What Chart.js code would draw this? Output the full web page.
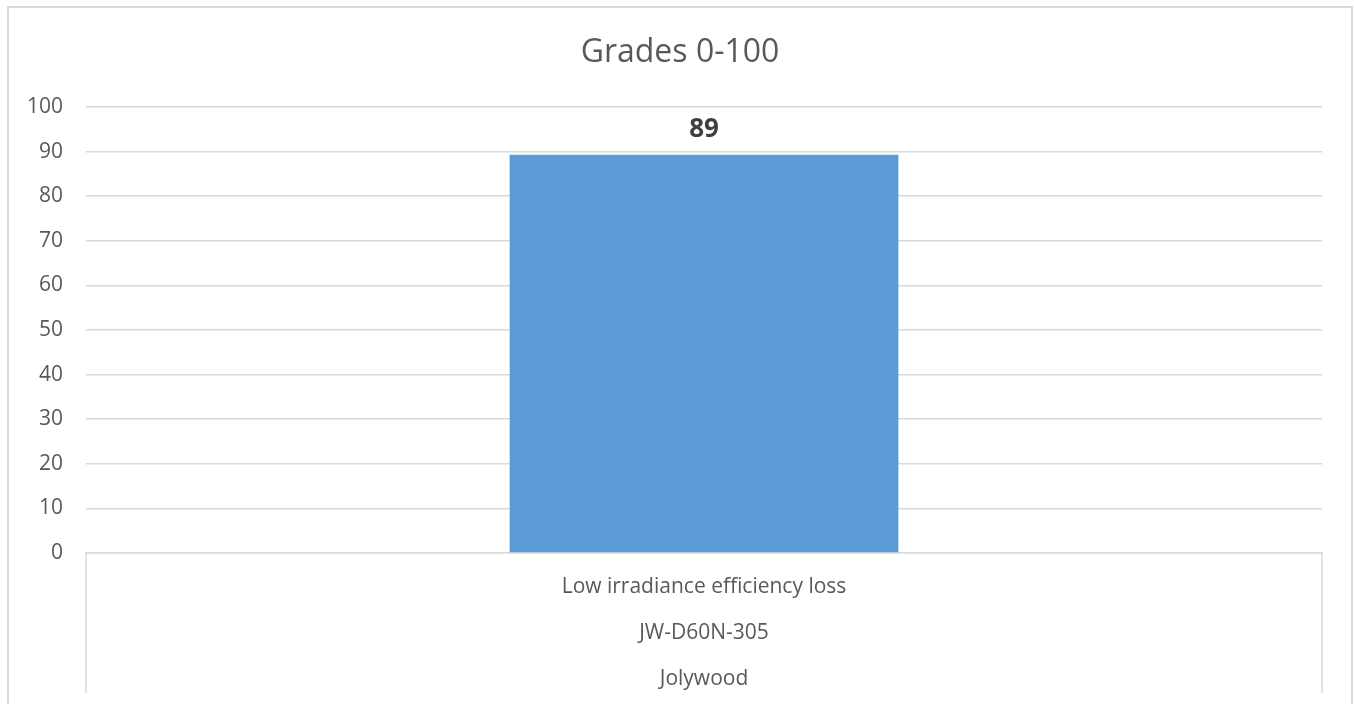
<!DOCTYPE html>
<html>
<head>
<meta charset="utf-8">
<script src="https://cdn.jsdelivr.net/npm/chart.js@4"></script>
<style>
  body { margin: 0; background: #fff; }
  #frame { position: absolute; left: 7px; top: 6px; width: 1346px; height: 740px; border: 2px solid #d9d9d9; box-sizing: border-box; }
  #myChart { position: absolute; left: 0; top: 0; }
</style>
</head>
<body>
<div id="frame"></div>
<canvas id="myChart" width="1354" height="704"></canvas>
<script>
const chartTitle = 'Grades 0-100';
const categories = [
    ['Low irradiance efficiency loss', 'JW-D60N-305', 'Jolywood']
];
const grades = [89.3];
const yTicks = [0, 10, 20, 30, 40, 50, 60, 70, 80, 90, 100];

const textColor = '#595959';
const gridColor = '#d9d9d9';

// title centred on the whole frame, like the Excel chart
const frameTitle = {
    id: 'frameTitle',
    afterDraw(chart) {
        const ctx = chart.ctx;
        ctx.save();
        ctx.font = '32px "Open Sans"';
        ctx.fillStyle = textColor;
        ctx.textAlign = 'center';
        ctx.textBaseline = 'middle';
        ctx.fillText(chartTitle, 680, 53);
        ctx.restore();
    }
};

// value label above the bar, placed from the bar element
const valueLabels = {
    id: 'valueLabels',
    afterDatasetsDraw(chart) {
        const ctx = chart.ctx;
        const meta = chart.getDatasetMeta(0);
        ctx.save();
        ctx.font = 'bold 26px "Open Sans"';
        ctx.fillStyle = '#404040';
        ctx.textAlign = 'center';
        ctx.textBaseline = 'alphabetic';
        meta.data.forEach((bar, i) => {
            ctx.fillText(Math.round(grades[i]), bar.x, bar.y - 18);
        });
        ctx.restore();
    }
};

// category separators below the axis (multi-level label look)
const categoryLines = {
    id: 'categoryLines',
    afterDraw(chart) {
        const x = chart.scales.x;
        const ctx = chart.ctx;
        ctx.save();
        ctx.strokeStyle = gridColor;
        ctx.lineWidth = 1.5;
        [x.left, x.right].forEach(px => {
            ctx.beginPath();
            ctx.moveTo(px, x.top);
            ctx.lineTo(px, x.top + 140);
            ctx.stroke();
        });
        ctx.restore();
    }
};

const data = {
    labels: categories,
    datasets: [{
        label: 'Grades',
        backgroundColor: '#5b9bd5',
        data: grades,
        barPercentage: 0.3145,
        categoryPercentage: 1
    }]
};

const config = {
    type: 'bar',
    data,
    options: {
        responsive: false,
        animation: false,
        layout: { padding: { left: 4, right: 32, top: 107, bottom: 4 } },
        plugins: {
            legend: { display: false },
            tooltip: { enabled: false },
            title: { display: false }
        },
        scales: {
            x: {
                offset: true,
                afterFit(scale) {
                    scale.height = 147;
                    scale.paddingLeft = 0;
                    scale.paddingRight = 0;
                },
                grid: { display: false },
                border: { color: gridColor, width: 1.5 },
                ticks: {
                    color: textColor,
                    font: { family: 'Open Sans', size: 21, lineHeight: 2.19 },
                    padding: 3,
                    maxRotation: 0
                }
            },
            y: {
                min: 0,
                max: 100,
                afterBuildTicks(scale) {
                    scale.ticks = yTicks.map(v => ({ value: v }));
                },
                grid: { color: gridColor, lineWidth: 1.5, drawTicks: false },
                border: { display: false },
                ticks: {
                    color: textColor,
                    font: { family: 'Open Sans', size: 21 },
                    padding: 23
                }
            }
        }
    },
    plugins: [frameTitle, valueLabels, categoryLines]
};

const myChart = new Chart(
    document.getElementById('myChart'),
    config
);
</script>
</body>
</html>
